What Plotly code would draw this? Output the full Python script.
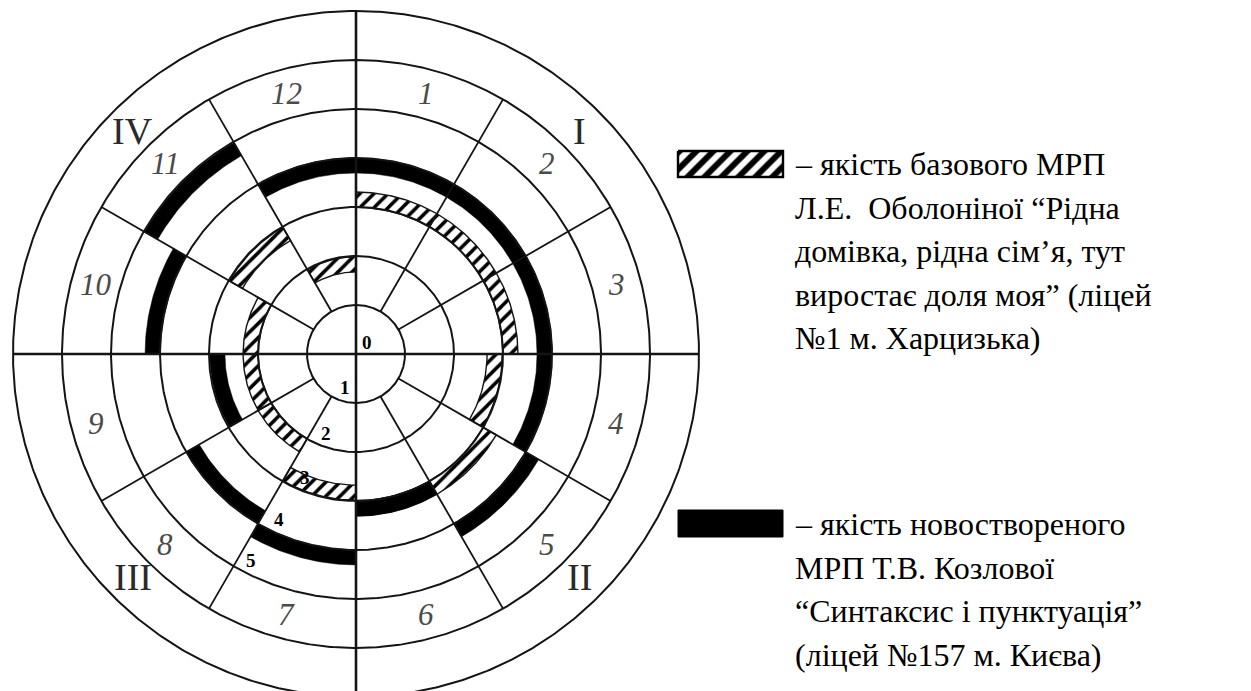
import numpy as np
import plotly.graph_objects as go

# ---------------- data ----------------
sectors = [str(i) for i in range(1, 13)]
quadrants = ["I", "II", "III", "IV"]
ring_labels = ["0", "1", "2", "3", "4", "5"]
# level (in ring units) of the arc in each sector 1..12
base_levels = [3.15, 3.15, 3.15, 2.83, 3.15, 3.15, 2.83, 2.15, 2.15, 2.15, 2.83, 1.83]
new_levels = [3.85, 3.85, 3.85, 3.85, 4.15, 3.15, 4.15, 3.85, 2.83, 4.15, 4.83, 3.85]
legend_base = [
    "– якість базового МРП",
    "Л.Е.  Оболоніної “Рідна",
    "домівка, рідна сім’я, тут",
    "виростає доля моя” (ліцей",
    "№1 м. Харцизька)",
]
legend_new = [
    "– якість новоствореного",
    "МРП Т.В. Козлової",
    "“Синтаксис і пунктуація”",
    "(ліцей №157 м. Києва)",
]

# ---------------- layout constants ----------------
PAGE_W, PAGE_H = 1251, 691
BODY = 8                    # default page margin around the plot div
W, H = PAGE_W - BODY, PAGE_H - BODY
CX, CY = 356, 354           # centre in page px
UNIT = 49.0                 # px per ring
N_RINGS = 7
INNER_RING, SECTOR_RING = 1, 6
BAND = 0.31
SECTOR_DEG = 360 / len(sectors)
FONT = "'Liberation Serif', 'DejaVu Serif', serif"
INK = "#141414"


def px_x(p):
    return (p - CX) / UNIT


def px_y(p):
    return (CY - p) / UNIT


def xy(r, deg):
    t = np.radians(deg)
    return r * np.sin(t), r * np.cos(t)


def arc_poly(r_mid, a0, a1, band):
    th = np.linspace(a0, a1, 40)
    r_out = np.full_like(th, r_mid + band / 2)
    r_in = np.full_like(th, r_mid - band / 2)
    rr = np.concatenate([r_out, r_in[::-1], r_out[:1]])
    tt = np.concatenate([th, th[::-1], th[:1]])
    return xy(rr, tt)


fig = go.Figure()

# hatched arcs (base programme)
hx, hy = [], []
for i, lv in enumerate(base_levels):
    x, y = arc_poly(lv, i * SECTOR_DEG, (i + 1) * SECTOR_DEG, BAND)
    hx += list(x) + [None]
    hy += list(y) + [None]
fig.add_trace(go.Scatter(
    x=hx, y=hy, mode="lines", fill="toself",
    line=dict(color=INK, width=1.4),
    fillcolor="white",
    fillpattern=dict(shape="/", fgcolor="black", bgcolor="white", size=10,
                     solidity=0.35, fgopacity=1, fillmode="replace"),
    hoverinfo="skip", showlegend=False))

# solid arcs (new programme)
bx, by = [], []
for i, lv in enumerate(new_levels):
    x, y = arc_poly(lv, i * SECTOR_DEG, (i + 1) * SECTOR_DEG, BAND)
    bx += list(x) + [None]
    by += list(y) + [None]
fig.add_trace(go.Scatter(
    x=bx, y=by, mode="lines", fill="toself",
    line=dict(color="black", width=0.5), fillcolor="black",
    hoverinfo="skip", showlegend=False))

# concentric circles
th = np.linspace(0, 360, 721)
for k in range(1, N_RINGS + 1):
    x, y = xy(np.full_like(th, k), th)
    fig.add_trace(go.Scatter(x=x, y=y, mode="lines",
                             line=dict(color=INK, width=2),
                             hoverinfo="skip", showlegend=False))

# sector dividers
for i in range(len(sectors)):
    a = i * SECTOR_DEG
    if a % 90 == 0:
        x, y = xy(np.array([0, N_RINGS]), np.array([a, a]))
        w = 2.6
    else:
        x, y = xy(np.array([INNER_RING, SECTOR_RING]), np.array([a, a]))
        w = 1.8
    fig.add_trace(go.Scatter(x=x, y=y, mode="lines",
                             line=dict(color=INK, width=w),
                             hoverinfo="skip", showlegend=False))

ann = []
# sector numbers
for i, s in enumerate(sectors):
    x, y = xy(5.5, (i + 0.5) * SECTOR_DEG)
    ann.append(dict(x=x, y=y, text=s, showarrow=False,
                    font=dict(family=FONT, size=31, color="#4a4a4a", style="italic"),
                    xanchor="center", yanchor="middle"))
# quadrant numerals
for i, q in enumerate(quadrants):
    x, y = xy(6.45, 45 + 90 * i)
    ann.append(dict(x=x, y=y, text=q, showarrow=False,
                    font=dict(family=FONT, size=38, color="#2a2a2a"),
                    xanchor="center", yanchor="middle"))
# ring labels
for k, lab in enumerate(ring_labels):
    if k == 0:
        x, y = xy(0.33, 43)
    else:
        x, y = xy(k - 0.27, 196 + 2.2 * k)
    ann.append(dict(x=x, y=y, text=lab, showarrow=False,
                    font=dict(family=FONT, size=19, color="black", weight="bold"),
                    xanchor="center", yanchor="middle"))

# legend swatches (page px)
SW_X0, SW_X1 = 678, 783
sw1 = (151, 177)
sw2 = (510, 537)
for (y0, y1), hatched in ((sw1, True), (sw2, False)):
    xs = [px_x(SW_X0), px_x(SW_X1), px_x(SW_X1), px_x(SW_X0), px_x(SW_X0)]
    ys = [px_y(y0), px_y(y0), px_y(y1), px_y(y1), px_y(y0)]
    kw = dict(x=xs, y=ys, mode="lines", fill="toself", hoverinfo="skip", showlegend=False)
    if hatched:
        fig.add_trace(go.Scatter(**kw, line=dict(color="black", width=2.4),
                                 fillcolor="white",
                                 fillpattern=dict(shape="/", fgcolor="black", bgcolor="white",
                                                  size=12, solidity=0.5, fgopacity=1,
                                                  fillmode="replace")))
    else:
        fig.add_trace(go.Scatter(**kw, line=dict(color="black", width=1), fillcolor="black"))

TXT_X = 793
STEP = 43.6
for lines, top in ((legend_base, 164), (legend_new, 524)):
    for j, t in enumerate(lines):
        ann.append(dict(x=px_x(TXT_X), y=px_y(top + j * STEP), text=t, showarrow=False,
                        font=dict(family=FONT, size=32, color="black"),
                        xanchor="left", yanchor="middle"))

fig.update_layout(
    width=W, height=H,
    margin=dict(l=0, r=0, t=0, b=0),
    paper_bgcolor="white", plot_bgcolor="white",
    font=dict(family=FONT),
    xaxis=dict(range=[px_x(BODY), px_x(PAGE_W)], visible=False, fixedrange=True),
    yaxis=dict(range=[px_y(PAGE_H), px_y(BODY)], visible=False, fixedrange=True),
    annotations=ann,
    showlegend=False,
)

fig.write_html("out.html")
